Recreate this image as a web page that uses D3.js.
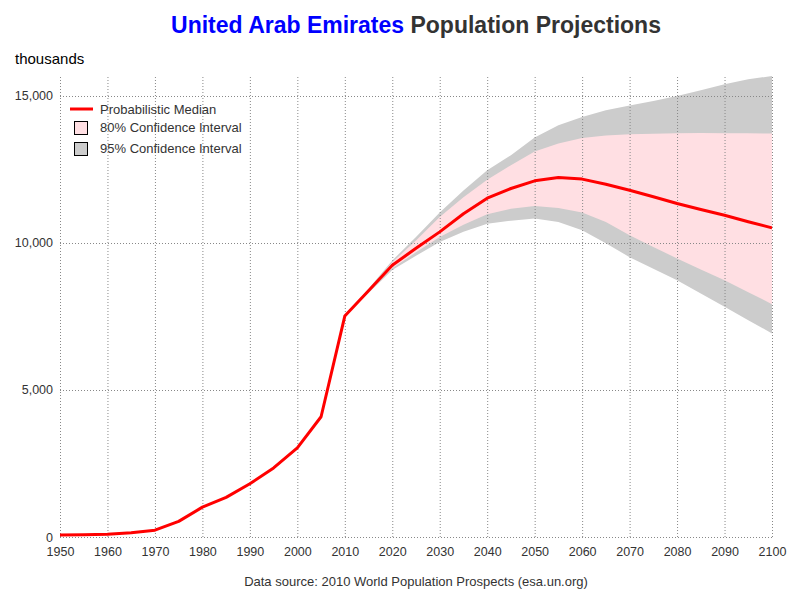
<!DOCTYPE html>
<html><head><meta charset="utf-8">
<script src="https://cdn.jsdelivr.net/npm/d3@7"></script>
<style>body{margin:0;background:#fff}svg{display:block;font-family:"Liberation Sans",Arial,sans-serif}</style>
</head><body><svg id="c" width="800" height="600"></svg>
<script>
const years = d3.range(1950, 2101, 5);
const median = [70,80,90,146,232,532,1015,1349,1809,2349,3033,4089,7512,8370,9242,9815,10374,10990,11519,11849,12110,12222,12168,11995,11791,11570,11340,11135,10941,10720,10510];
const bandYears = d3.range(2010, 2101, 5);
const upper95 = [7512,8440,9400,10200,11030,11780,12470,12980,13580,14000,14281,14508,14670,14825,14995,15189,15392,15562,15674];
const upper80 = [7512,8410,9340,10080,10884,11550,12150,12640,13110,13378,13568,13650,13694,13710,13728,13735,13730,13725,13716];
const lower80 = [7512,8340,9140,9680,10200,10620,10975,11162,11258,11190,11030,10714,10262,9864,9470,9096,8733,8325,7917];
const lower95 = [7512,8300,9080,9560,10030,10380,10653,10754,10829,10714,10432,9990,9514,9117,8733,8281,7826,7373,6922];
const xTicks = d3.range(1950, 2101, 10);
const yTicks = [0,5000,10000,15000];
const legendLabels = ["Probabilistic Median","80% Confidence Interval","95% Confidence Interval"];

const svg = d3.select("#c");
const x = d3.scaleLinear().domain([1950,2100]).range([60,772]);
const y = d3.scaleLinear().domain([0,d3.max(upper95)]).range([537,76]);

const band = (lo, hi) => d3.area().x((d,i)=>x(bandYears[i])).y0((d,i)=>y(lo[i])).y1((d,i)=>y(hi[i]))(bandYears);
svg.append("path").attr("d", band(lower95, upper95)).attr("fill","#cccccc");
svg.append("path").attr("d", band(lower80, upper80)).attr("fill","#ffdfe3");

// grid
const g = svg.append("g");
g.selectAll("line.v").data(xTicks).join("line")
  .attr("x1",d=>x(d)+0.5).attr("x2",d=>x(d)+0.5).attr("y1",y.range()[1]+1).attr("y2",537)
  .attr("stroke","#888").attr("stroke-dasharray","1,2");
g.selectAll("line.h").data(yTicks).join("line")
  .attr("x1",60).attr("x2",772).attr("y1",d=>Math.round(y(d))+0.5).attr("y2",d=>Math.round(y(d))+0.5)
  .attr("stroke","#888").attr("stroke-dasharray","1,2");

// axes labels via d3 axes
const xAxis = svg.append("g").attr("transform","translate(0,537)")
  .call(d3.axisBottom(x).tickValues(xTicks).tickFormat(d3.format("d")).tickSize(0).tickPadding(10));
const yAxis = svg.append("g").attr("transform","translate(60,0)")
  .call(d3.axisLeft(y).tickValues(yTicks).tickFormat(d3.format(",")).tickSize(0).tickPadding(7));
[xAxis,yAxis].forEach(a=>{a.select(".domain").remove();a.selectAll("text").attr("fill","#333").style("font-size","12.5px").style("font-family","Liberation Sans, Arial, sans-serif");});

// median line
svg.append("path").attr("d", d3.line().x((d,i)=>x(years[i])).y(d=>y(d))(median))
  .attr("fill","none").attr("stroke","#ff0000").attr("stroke-width",3).attr("stroke-linejoin","round");

// title
const t = svg.append("text").attr("x",416).attr("y",33).attr("text-anchor","middle")
  .style("font-size","23px").style("font-weight","bold");
t.append("tspan").attr("fill","#0000ff").text("United Arab Emirates");
t.append("tspan").attr("fill","#333").text(" Population Projections");

svg.append("text").attr("x",15).attr("y",64).text("thousands").style("font-size","15px").attr("fill","#000");

svg.append("text").attr("x",416).attr("y",586).attr("text-anchor","middle")
  .text("Data source: 2010 World Population Prospects (esa.un.org)").style("font-size","13px").attr("fill","#333");

// legend
svg.append("line").attr("x1",70).attr("x2",93).attr("y1",109).attr("y2",109).attr("stroke","#ff0000").attr("stroke-width",3);
svg.append("rect").attr("x",74.5).attr("y",121.5).attr("width",13).attr("height",13).attr("fill","#ffdfe3").attr("stroke","#000");
svg.append("rect").attr("x",74.5).attr("y",142.5).attr("width",13).attr("height",13).attr("fill","#cccccc").attr("stroke","#000");
svg.selectAll("text.leg").data(legendLabels).join("text").attr("class","leg")
  .attr("x",100).attr("y",(d,i)=>[114,132,153][i]).text(d=>d).style("font-size","13px").attr("fill","#333");
</script></body></html>
